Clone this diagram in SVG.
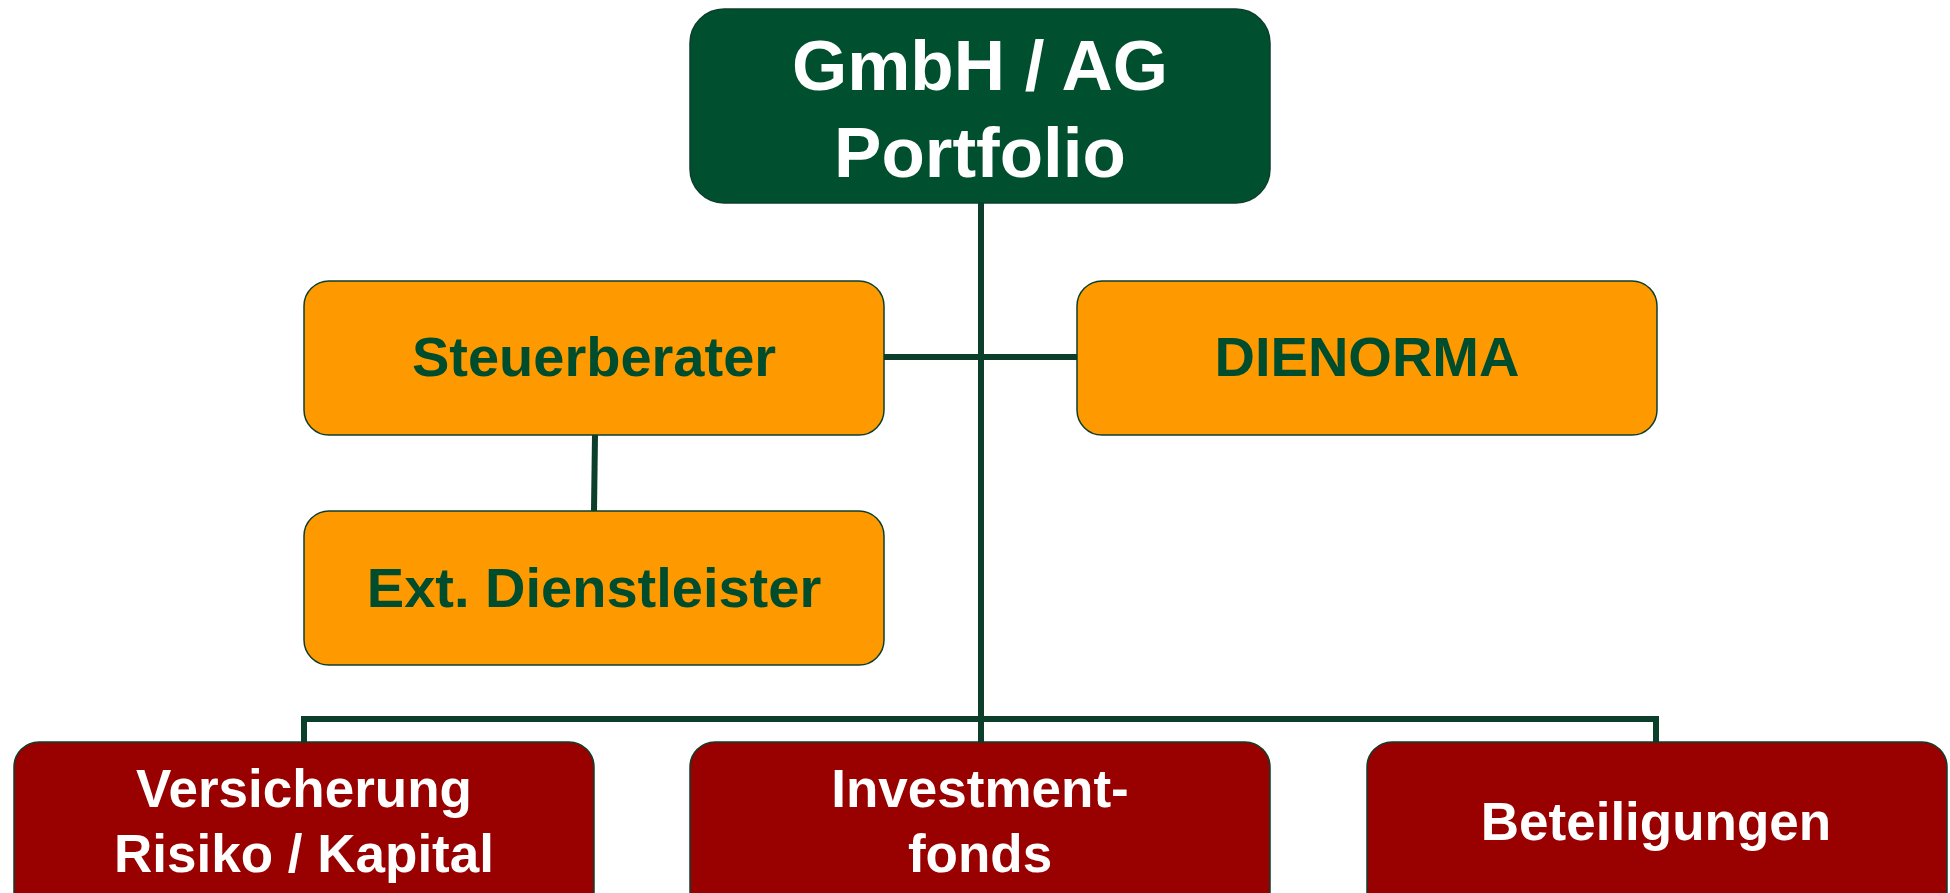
<svg xmlns="http://www.w3.org/2000/svg" width="1950" height="893" viewBox="0 0 1950 893">
<style>
.t{font-family:"Liberation Sans",Arial,sans-serif;font-weight:bold;text-anchor:middle}
.top{fill:#004F2E;stroke:#0B3F2C;stroke-width:1.5}
.mid{fill:#FF9900;stroke:#0B3F2C;stroke-width:1.5}
.bot{fill:#990000;stroke:#0B3F2C;stroke-width:1.5}
.w{fill:#FFFFFF}
.g{fill:#004D2E}
.c{stroke:#0B3F2C;stroke-width:6;fill:none}
</style>
<rect width="1950" height="893" fill="#FFFFFF"/>
<g id="connectors">
<line class="c" x1="981" y1="203" x2="981" y2="742"/>
<line class="c" x1="884" y1="357" x2="1077" y2="357"/>
<line class="c" x1="595" y1="435" x2="594" y2="511"/>
<polyline class="c" points="304,742 304,719 1656,719 1656,742"/>
</g>
<g id="node-top">
<rect class="top" x="690" y="9" width="580" height="194" rx="34"/>
<text class="t w" x="980" y="90" font-size="71">GmbH / AG</text>
<text class="t w" x="980" y="177" font-size="71">Portfolio</text>
</g>
<g id="node-steuerberater">
<rect class="mid" x="304" y="281" width="580" height="154" rx="25"/>
<text class="t g" x="594" y="376" font-size="56">Steuerberater</text>
</g>
<g id="node-dienorma">
<rect class="mid" x="1077" y="281" width="580" height="154" rx="25"/>
<text class="t g" x="1367" y="376" font-size="56">DIENORMA</text>
</g>
<g id="node-ext">
<rect class="mid" x="304" y="511" width="580" height="154" rx="25"/>
<text class="t g" x="594" y="607" font-size="56">Ext. Dienstleister</text>
</g>
<g id="node-versicherung">
<rect class="bot" x="14" y="742" width="580" height="180" rx="25"/>
<text class="t w" x="304" y="807" font-size="53">Versicherung</text>
<text class="t w" x="304" y="872" font-size="53">Risiko / Kapital</text>
</g>
<g id="node-investment">
<rect class="bot" x="690" y="742" width="580" height="180" rx="25"/>
<text class="t w" x="980" y="807" font-size="53">Investment-</text>
<text class="t w" x="980" y="872" font-size="53">fonds</text>
</g>
<g id="node-beteiligungen">
<rect class="bot" x="1367" y="742" width="580" height="180" rx="25"/>
<text class="t w" x="1656" y="840" font-size="53">Beteiligungen</text>
</g>
</svg>
